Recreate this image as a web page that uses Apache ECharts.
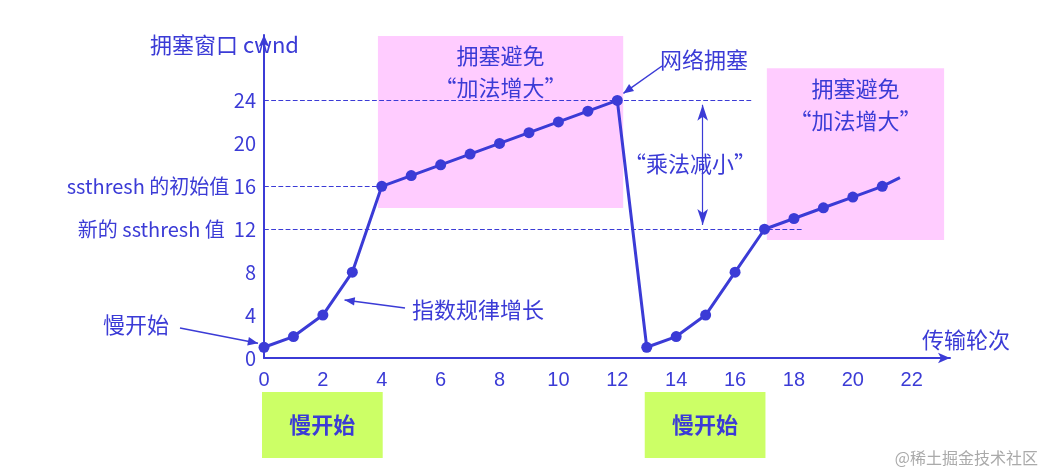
<!DOCTYPE html>
<html><head><meta charset="utf-8">
<script src="https://cdn.jsdelivr.net/npm/echarts@6/dist/echarts.min.js"></script>
<style>html,body{margin:0;background:#fff}#c{width:1045px;height:474px}</style>
</head><body><div id="c"></div>
<script>
var rounds1 = [0,1,2,3,4,5,6,7,8,9,10,11,12];
var cwnd1   = [1,2,4,8,16,17,18,19,20,21,22,23,24];
var rounds2 = [13,14,15,16,17,18,19,20,21];
var cwnd2   = [1,2,4,8,12,13,14,15,16];
var tail = [21.6,16.8];
var xTicks = [0,2,4,6,8,10,12,14,16,18,20,22];
var yTicks = [0,4,8,12,16,20,24];
var C = '#3b3bd6', F = '"Noto Sans CJK SC", sans-serif';
var pts = rounds1.map(function(x,i){return [x,cwnd1[i]];})
  .concat(rounds2.map(function(x,i){return [x,cwnd2[i]];}));
var data = pts.map(function(p){return {value:p};});
data.push({value:tail, symbol:'none'});
var chart = echarts.init(document.getElementById('c'));
chart.setOption({
  animation:false,
  textStyle:{fontFamily:F},
  grid:{left:264,right:95,top:35,bottom:116},
  xAxis:{type:'value',min:0,max:23.3,interval:2,splitLine:{show:false},
    axisLine:{lineStyle:{color:C,width:2},symbol:['none','arrow'],symbolSize:[8,12]},
    axisTick:{show:false},
    axisLabel:{color:C,fontSize:20,showMaxLabel:false,fontFamily:'Arial',margin:12}},
  yAxis:{type:'value',min:0,max:30.1,interval:4,splitLine:{show:false},
    axisLine:{show:true,lineStyle:{color:C,width:2},symbol:['none','arrow'],symbolSize:[8,12]},
    axisTick:{show:false},
    axisLabel:{color:C,fontSize:20,fontFamily:F,showMaxLabel:false,formatter:function(v){
      if(v===16) return 'ssthresh 的初始值 16';
      if(v===12) return '新的 ssthresh 值  12';
      return yTicks.indexOf(v)>=0 ? String(v) : '';}}},
  series:[{type:'line',data:data,symbol:'circle',symbolSize:11,
    lineStyle:{color:C,width:3},itemStyle:{color:C},z:5,
    markArea:{silent:true,itemStyle:{color:'#ffccff'},label:{show:true,position:'insideTop',color:C,fontSize:22,lineHeight:32,distance:4},
      data:[[{coord:[3.87,30],name:'拥塞避免\n“加法增大”'},{coord:[12.2,13.97]}],
            [{coord:[17.08,27],name:'拥塞避免\n“加法增大”'},{coord:[23.1,11]}]]},
    markLine:{silent:true,symbol:'none',lineStyle:{color:C,type:'dashed',width:1.2},label:{show:false},
      data:[[{coord:[0,24]},{coord:[16.6,24]}],[{coord:[0,16]},{coord:[3.9,16]}],[{coord:[0,12]},{coord:[18.3,12]}],
        [{coord:[14.9,23.6],symbol:'arrow',lineStyle:{type:'solid'}},{coord:[14.9,12.4],symbol:'arrow'}]]}
  }]
});
function P(x,y){return chart.convertToPixel({gridIndex:0},[x,y]);}
var g=[];
function box(x0,x1,label){var a=P(x0,0),b=P(x1,0);
  g.push({type:'rect',shape:{x:a[0]-2,y:a[1]+34,width:b[0]-a[0],height:66},style:{fill:'#ccff66'}});
  g.push({type:'text',style:{text:label,x:(a[0]+b[0])/2-2,y:a[1]+67,fill:C,font:'bold 22px '+F,align:'center',verticalAlign:'middle'}});}
box(0,4.1,'慢开始'); box(13,17.1,'慢开始');
function txt(s,x,y,al){g.push({type:'text',style:{text:s,x:x,y:y,fill:C,font:'22px '+F,align:al||'left',verticalAlign:'middle'}});}
function arrow(x0,y0,x1,y1){var ang=Math.atan2(y1-y0,x1-x0),L=11,W=0.4;
  g.push({type:'line',shape:{x1:x0,y1:y0,x2:x1,y2:y1},style:{stroke:C,lineWidth:1.5}});
  g.push({type:'polygon',shape:{points:[[x1,y1],[x1-L*Math.cos(ang-W),y1-L*Math.sin(ang-W)],[x1-L*Math.cos(ang+W),y1-L*Math.sin(ang+W)]]},style:{fill:C}});}
var p;
txt('拥塞窗口 cwnd',150,45); txt('传输轮次',922,340);
p=P(0,1); txt('慢开始',103,325); arrow(180,328,p[0]-6,p[1]-4);
p=P(2.6,5.4); txt('指数规律增长',412,310); arrow(405,308,p[0]+4,p[1]);
p=P(12,24); txt('网络拥塞',660,60); arrow(662,66,p[0]+6,p[1]-7);
txt('“乘法减小”',690,164,'center');
g.push({type:'text',style:{text:'@稀土掘金技术社区',x:1038,y:458,fill:'#aaa',font:'16px '+F,align:'right',verticalAlign:'middle'}});
chart.setOption({graphic:g});
</script></body></html>
